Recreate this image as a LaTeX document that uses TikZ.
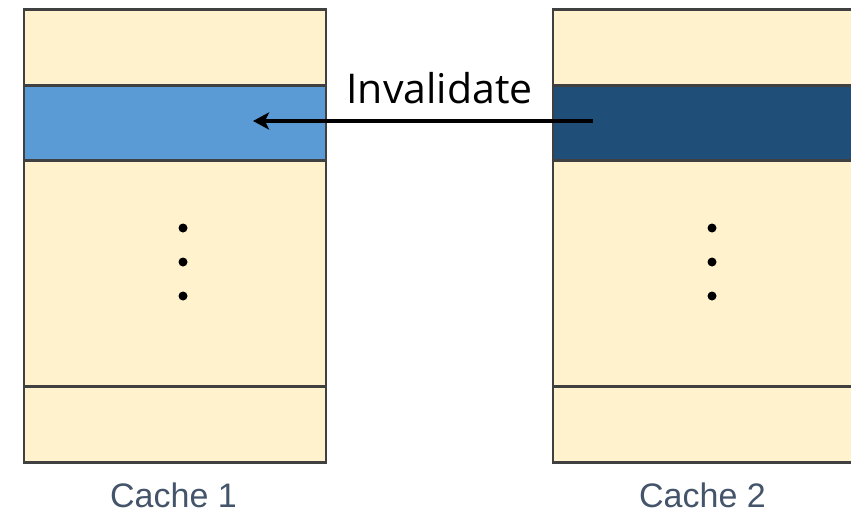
\documentclass[tikz,border=0pt]{standalone}
\usepackage{fontspec}
\setmainfont{Liberation Sans}
\newfontfamily\labelfont{Open Sans}
\usetikzlibrary{arrows.meta}
\definecolor{cream}{HTML}{FFF2CC}
\definecolor{lightblue}{HTML}{5B9BD5}
\definecolor{darkblue}{HTML}{1F4E79}
\definecolor{frame}{HTML}{404040}
\definecolor{caption}{HTML}{44546A}
\tikzset{
  x=1pt, y=-1pt,
  cacherow/.style={draw=frame, line width=2.6pt, minimum width=302pt, inner sep=0pt, anchor=north west},
  dotmark/.style={circle, fill=black, minimum size=9pt, inner sep=0pt},
  cachename/.style={text=caption, font=\fontsize{34}{40}\selectfont, anchor=base, inner sep=0pt},
}
\begin{document}
\begin{tikzpicture}
\useasboundingbox (0,0) rectangle (851,514);
% Cache 1
\node[cacherow, fill=cream, minimum height=76pt] (c1top) at (22.5,8) {};
\node[cacherow, fill=lightblue, minimum height=75pt] (c1line) at (22.5,84) {};
\node[cacherow, fill=cream, minimum height=226pt] (c1mid) at (22.5,159) {};
\node[cacherow, fill=cream, minimum height=76pt] (c1bot) at (22.5,385) {};
% Cache 2
\node[cacherow, fill=cream, minimum height=76pt] (c2top) at (551.5,8) {};
\node[cacherow, fill=darkblue, minimum height=75pt] (c2line) at (551.5,84) {};
\node[cacherow, fill=cream, minimum height=226pt] (c2mid) at (551.5,159) {};
\node[cacherow, fill=cream, minimum height=76pt] (c2bot) at (551.5,385) {};
% ellipsis dots
\foreach \i/\yy in {1/228,2/262,3/296} {
  \node[dotmark] (d1\i) at (183,\yy) {};
  \node[dotmark] (d2\i) at (712,\yy) {};
}
% captions
\node[cachename] (n1) at (173.5,507) {Cache 1};
\node[cachename] (n2) at (702.5,507) {Cache 2};
% invalidate message
\coordinate (src) at (593,121);
\coordinate (dst) at (253,121);
\draw[line width=4pt, -{Stealth[length=16pt, width=17pt, inset=4pt]}] (src) -- (dst);
\node[anchor=base, font=\labelfont\fontsize{41}{48}\selectfont, inner sep=0pt] (inv) at (439.5,103) {Invalidate};
\end{tikzpicture}
\end{document}
